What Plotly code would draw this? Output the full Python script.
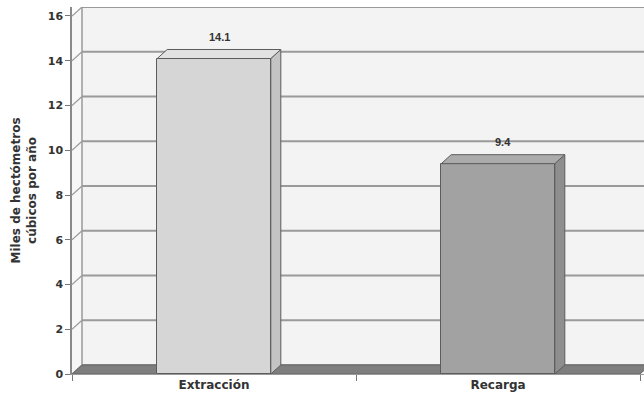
import plotly.graph_objects as go

# Data
categories = ["Extracción", "Recarga"]
values = [14.1, 9.4]
labels = ["14.1", "9.4"]
y_ticks = [0, 2, 4, 6, 8, 10, 12, 14, 16]

# Styling
FONT = "DejaVu Sans"
LABEL_FONT = "Liberation Sans"
front_colors = ["#d6d6d6", "#a2a2a2"]
side_colors = ["#c4c4c4", "#8e8e8e"]
top_colors = ["#e2e2e2", "#ababab"]
edge = "#5c5c5c"
grid = "#9a9a9a"

# 3-D depth offset (in data units) and bar width
DX = 0.0352
DY = 0.402
W = 0.40
X_END = 1.514
Y_TOP = 16 + DY

xs = list(range(len(categories)))

fig = go.Figure()
fig.add_trace(go.Bar(
    x=xs, y=values, width=W,
    marker=dict(color=front_colors, line=dict(color=edge, width=1)),
    hoverinfo="skip", showlegend=False,
))

shapes = []
# back wall and left wall
shapes.append(dict(type="rect", xref="x", yref="y", x0=-0.5 + DX, x1=X_END + 0.1,
                   y0=DY, y1=Y_TOP, fillcolor="#f3f3f3", line=dict(width=0), layer="below"))
shapes.append(dict(type="path", xref="x", yref="y",
                   path=f"M {-0.5} 0 L {-0.5} 16 L {-0.5 + DX} {16 + DY} L {-0.5 + DX} {DY} Z",
                   fillcolor="#f7f7f7", line=dict(width=0), layer="below"))
# gridlines on the back wall plus the connectors to the front axis
for v in y_ticks:
    shapes.append(dict(type="line", xref="x", yref="y", x0=-0.5 + DX, x1=X_END + 0.1,
                       y0=v + DY, y1=v + DY, line=dict(color=grid, width=2), layer="below"))
    shapes.append(dict(type="line", xref="x", yref="y", x0=-0.5, x1=-0.5 + DX,
                       y0=v, y1=v + DY, line=dict(color=grid, width=1.2), layer="below"))
shapes.append(dict(type="line", xref="x", yref="y", x0=-0.5 + DX, x1=-0.5 + DX,
                   y0=DY, y1=16 + DY, line=dict(color=grid, width=1.5), layer="below"))
# floor
shapes.append(dict(type="path", xref="x", yref="y",
                   path=f"M -0.5 0 L 1.5 0 L {1.5 + DX} {DY} L {X_END + 0.1} {DY} "
                        f"L {-0.5 + DX} {DY} Z",
                   fillcolor="#7e7e7e", line=dict(color="#666666", width=1), layer="below"))

# bar sides and tops
for i, v in enumerate(values):
    xl, xr = i - W / 2, i + W / 2
    shapes.append(dict(type="path", xref="x", yref="y",
                       path=f"M {xr} 0 L {xr + DX} {DY} L {xr + DX} {v + DY} L {xr} {v} Z",
                       fillcolor=side_colors[i], line=dict(color=edge, width=1), layer="above"))
    shapes.append(dict(type="path", xref="x", yref="y",
                       path=f"M {xl} {v} L {xl + DX} {v + DY} L {xr + DX} {v + DY} L {xr} {v} Z",
                       fillcolor=top_colors[i], line=dict(color=edge, width=1), layer="above"))

annotations = []
for i, (v, t) in enumerate(zip(values, labels)):
    annotations.append(dict(x=i + DX / 2, y=v + DY, xref="x", yref="y", text=t,
                            showarrow=False, yanchor="bottom", yshift=5,
                            font=dict(family=LABEL_FONT, size=11, color="#333333", weight="bold")))
annotations.append(dict(x=-0.084, y=0.5, xref="paper", yref="paper",
                        text="Miles de hectómetros<br>cúbicos por año",
                        textangle=-90, showarrow=False, xanchor="center", yanchor="middle",
                        font=dict(family=FONT, size=12, color="#333333", weight="bold")))

fig.update_layout(
    width=644, height=395,
    margin=dict(l=72, r=0, t=7, b=21),
    plot_bgcolor="white", paper_bgcolor="white",
    shapes=shapes, annotations=annotations,
    bargap=0,
    xaxis=dict(range=[-0.5, X_END], tickmode="array", tickvals=xs, ticktext=categories,
               ticks="", showgrid=False, zeroline=False,
               showline=True, linecolor="#9a9a9a", linewidth=1,
               tickfont=dict(family=FONT, size=12, color="#333333", weight="bold"),
               minor=dict(tickmode="array", tickvals=[-0.5, 0.5, 1.5], ticks="outside",
                          ticklen=6, tickcolor="#777777", showgrid=False)),
    yaxis=dict(range=[0, Y_TOP], tickmode="array", tickvals=y_ticks,
               ticks="outside", ticklen=5, tickcolor="#777777",
               showgrid=False, zeroline=False,
               showline=True, linecolor="#8a8a8a", linewidth=1.5,
               tickfont=dict(family=FONT, size=11, color="#333333", weight="bold")),
)

fig.write_html("out.html")
